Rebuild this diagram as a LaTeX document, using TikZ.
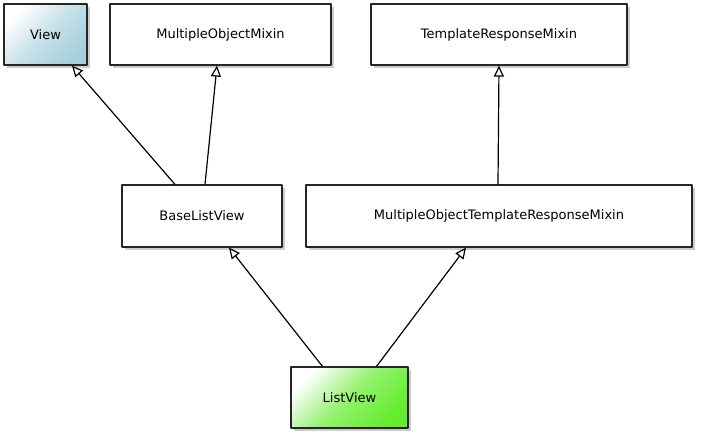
\documentclass[tikz,border=0pt]{standalone}
\usepackage{fontspec}
\setmainfont{DejaVu Sans}
\usetikzlibrary{arrows.meta,shadows}
\definecolor{viewblue}{RGB}{168,208,220}
\definecolor{listgreen}{RGB}{100,236,46}
\begin{document}
\begin{tikzpicture}[x=1pt, y=-1pt, font=\fontsize{13}{15}\selectfont, line join=round,
		cls/.style={draw=black!85, line width=1.2pt, fill=white, inner sep=0pt,
			drop shadow={shadow xshift=3pt, shadow yshift=-3pt, fill=black, opacity=0.2}},
		inh/.style={line width=1.2pt, -{Triangle[open, length=11pt, width=10pt, fill=white]}}]
				\useasboundingbox (0,0) rectangle (721,436);
				% top row
				\node[cls, minimum width=83pt, minimum height=61pt, top color=white, bottom color=viewblue, middle color=viewblue!65, shading angle=45] (view) at (45.5,34.5) {View};
				\node[cls, minimum width=221pt, minimum height=61pt] (mom) at (220.5,34.5) {MultipleObjectMixin};
				\node[cls, minimum width=256pt, minimum height=61pt] (trm) at (499,34.5) {TemplateResponseMixin};
				% middle row
				\node[cls, minimum width=160pt, minimum height=62pt] (blv) at (202,216) {BaseListView};
				\node[cls, minimum width=386pt, minimum height=62pt] (motrm) at (499,216) {MultipleObjectTemplateResponseMixin};
				% bottom
				\node[cls, minimum width=117pt, minimum height=61pt, top color=white, bottom color=listgreen, middle color=listgreen!70, shading angle=45] (lv) at (349.5,397.5) {ListView};
				% inheritance
				\draw[inh] ([xshift=-27pt]blv.north) -- ([xshift=26.5pt]view.south);
				\draw[inh] ([xshift=3pt]blv.north) -- ([xshift=-3.5pt]mom.south);
				\draw[inh] ([xshift=-1pt]motrm.north) -- (trm.south);
				\draw[inh] ([xshift=-27pt]lv.north) -- ([xshift=27pt]blv.south);
				\draw[inh] ([xshift=27pt]lv.north) -- ([xshift=-33pt]motrm.south);
			\end{tikzpicture}
\end{document}
